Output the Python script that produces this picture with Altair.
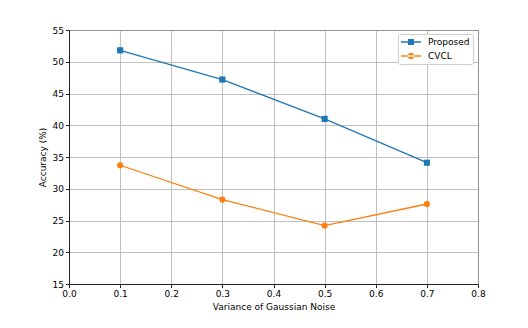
import altair as alt
import pandas as pd

noise = [0.1, 0.3, 0.5, 0.7]
proposed = [51.8, 47.2, 41.0, 34.1]
cvcl = [33.7, 28.3, 24.2, 27.6]
series_names = ["Proposed", "CVCL"]
colors = ["#1f77b4", "#ff7f0e"]
x_ticks = [0.0, 0.1, 0.2, 0.3, 0.4, 0.5, 0.6, 0.7, 0.8]
y_ticks = [15, 20, 25, 30, 35, 40, 45, 50, 55]

rows = []
for name, vals in zip(series_names, [proposed, cvcl]):
    for xv, yv in zip(noise, vals):
        rows.append({"noise": xv, "acc": yv, "series": name})
df = pd.DataFrame(rows)

FONT = "DejaVu Sans"

x = alt.X("noise:Q", scale=alt.Scale(domain=[0, 0.8], nice=False),
          axis=alt.Axis(values=x_ticks, format=".1f", title="Variance of Gaussian Noise"))
y = alt.Y("acc:Q", scale=alt.Scale(domain=[15, 55], nice=False, zero=False),
          axis=alt.Axis(values=y_ticks, format="d", title="Accuracy (%)"))

lines = alt.Chart(df).mark_line(strokeWidth=1.3).encode(
    x=x, y=y,
    color=alt.Color("series:N", scale=alt.Scale(domain=series_names, range=colors), legend=None),
)

points = alt.Chart(df).mark_point(filled=True, opacity=1, size=38).encode(
    x=x, y=y,
    color=alt.Color("series:N", scale=alt.Scale(domain=series_names, range=colors), legend=None),
    shape=alt.Shape("series:N", scale=alt.Scale(domain=series_names, range=["square", "circle"]), legend=None),
)

# legend symbols: a thin bar (the line) plus the marker, all filled, drawn to the right of the nominal symbol box
sq_path = "M-1,-0.13H3V0.13H-1ZM0.4,-0.62H1.6V0.62H0.4Z"
circ_path = "M-1,-0.13H3V0.13H-1ZM0.35,0A0.65,0.65 0 1,0 1.65,0A0.65,0.65 0 1,0 0.35,0Z"

leg = alt.Legend(
    title=None, orient="none", legendX=329, legendY=4,
    labelFont=FONT, labelFontSize=9, labelColor="#000",
    symbolSize=100, symbolStrokeWidth=0, rowPadding=4,
    padding=3, strokeColor="#cccccc", fillColor="white", cornerRadius=2,
    labelOffset=17, symbolOpacity=1,
)
legend_layer = alt.Chart(df).transform_filter("false").mark_point(filled=True, opacity=1).encode(
    x=x, y=y,
    color=alt.Color("series:N", scale=alt.Scale(domain=series_names, range=colors), legend=leg),
    shape=alt.Shape("series:N", scale=alt.Scale(domain=series_names, range=[sq_path, circ_path]), legend=leg),
)

chart = alt.layer(lines, points, legend_layer).resolve_scale(
    shape="independent", color="independent"
).properties(
    width=409, height=254,
    autosize=alt.AutoSizeParams(type="none"),
    padding={"left": 61, "top": 22, "right": 42, "bottom": 30},
).configure_view(
    stroke="#222", strokeWidth=1
).configure_axis(
    labelFont=FONT, titleFont=FONT, labelFontSize=9, titleFontSize=9,
    labelColor="#000", titleColor="#000", titleFontWeight="normal",
    gridColor="#b0b0b0", gridWidth=0.8, gridOpacity=1,
    domainColor="#222", tickColor="#222", tickSize=3.5, labelPadding=2,
    labelFlush=False,
).configure_axisX(
    titlePadding=4,
).configure_axisY(
    titlePadding=5,
)

chart.save("out.html", embed_options={"renderer": "svg", "actions": False})
